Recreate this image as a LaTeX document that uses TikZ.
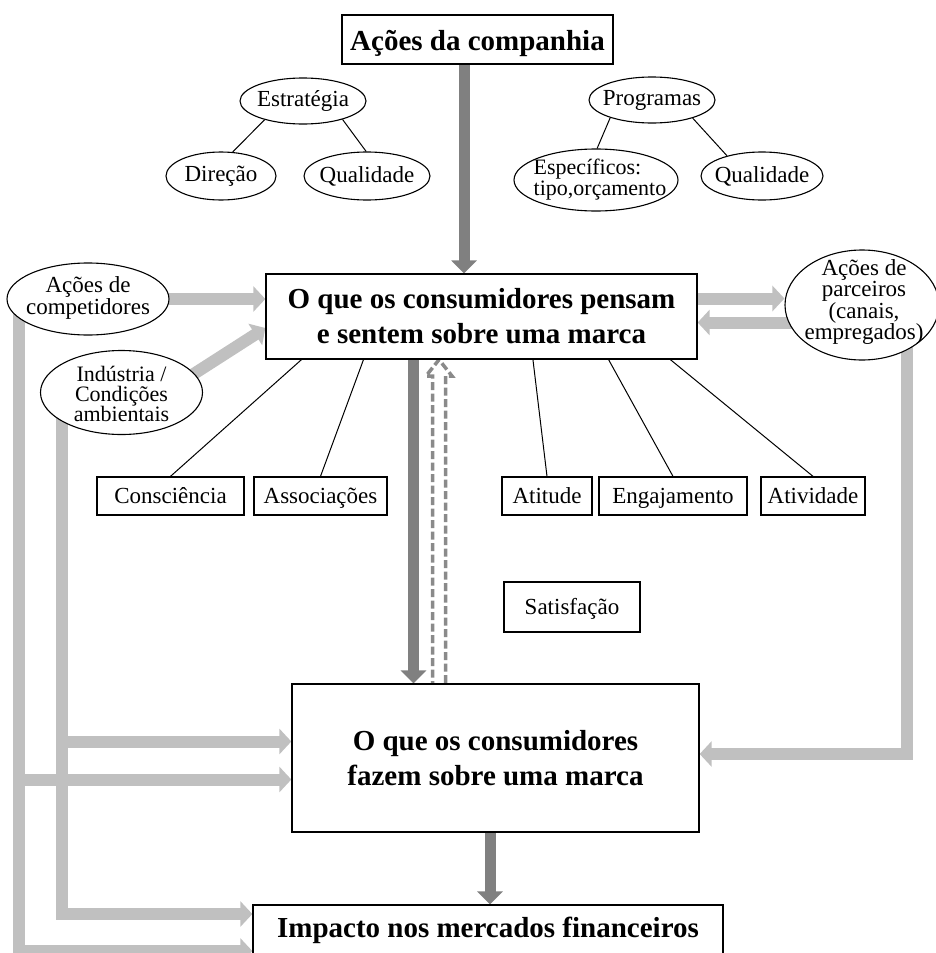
\documentclass[tikz,border=0pt]{standalone}
\usepackage{fontspec}
\setmainfont{Liberation Serif}
\usetikzlibrary{arrows.meta,shapes.geometric,calc}
\pgfdeclarelayer{bg}
\pgfsetlayers{bg,main}
\definecolor{darkg}{HTML}{808080}
\definecolor{lightg}{HTML}{C0C0C0}
\definecolor{dashg}{HTML}{8A8A8A}
\tikzset{
  box/.style={draw=black, line width=1.3pt, fill=white, inner sep=0pt, align=center},
  bigtxt/.style={font=\fontsize{29}{35}\selectfont\bfseries},
  smalltxt/.style={font=\fontsize{23}{26}\selectfont, text height=18pt, text depth=4pt},
  ell/.style={draw=black, line width=1.1pt, fill=white, ellipse, inner sep=0pt},
  elltxt/.style={inner sep=0pt, align=center},
  linkline/.style={draw=black, line width=1pt},
  darkarrow/.style={draw=darkg, line width=11pt, -{Triangle[width=25pt,length=13pt]}},
  lightarrow/.style={draw=lightg, line width=12pt, -{Triangle[width=25pt,length=12pt]}},
  hollowdash/.style={draw=dashg, line width=3.5pt, dash pattern=on 8pt off 3.5pt, line join=miter},
}
\begin{document}
\begin{tikzpicture}[x=1pt,y=-1pt]
\useasboundingbox (0,0) rectangle (935,953);

% main boxes
\node[box, bigtxt, minimum width=271pt, minimum height=49pt, text height=24pt, text depth=3pt] (title) at (477.5,39.5) {Ações da companhia};
\node[box, bigtxt, minimum width=431pt, minimum height=85pt] (b1) at (481.5,316.5) {O que os consumidores pensam\\e sentem sobre uma marca};
\node[box, bigtxt, minimum width=407pt, minimum height=148pt] (b2) at (495.5,758) {O que os consumidores\\fazem sobre uma marca};
\node[box, bigtxt, minimum width=470pt, minimum height=50pt, text height=20pt, text depth=6pt] (b3) at (488,930) {Impacto nos mercados financeiros};

% dimension boxes
\node[box, smalltxt, minimum width=147pt, minimum height=38pt] (cons) at (170.5,496) {Consciência};
\node[box, smalltxt, minimum width=133pt, minimum height=38pt] (asso) at (320.5,496) {Associações};
\node[box, smalltxt, minimum width=90pt, minimum height=38pt] (atit) at (547,496) {Atitude};
\node[box, smalltxt, minimum width=148pt, minimum height=38pt] (enga) at (673,496) {Engajamento};
\node[box, smalltxt, minimum width=104pt, minimum height=38pt] (ativ) at (813,496) {Atividade};
\node[box, smalltxt, minimum width=136pt, minimum height=50pt] (sat) at (572,607) {Satisfação};

% ellipses
\node[ell, minimum width=126pt, minimum height=46pt] (est) at (303,101) {};
\node[ell, minimum width=110pt, minimum height=48pt] (dir) at (221,176) {};
\node[ell, minimum width=126pt, minimum height=48pt] (qualL) at (367,176) {};
\node[ell, minimum width=126pt, minimum height=46pt] (prog) at (652,100) {};
\node[ell, minimum width=164pt, minimum height=62pt] (esp) at (596,180) {};
\node[ell, minimum width=122pt, minimum height=48pt] (qualR) at (762,176) {};
\node[ell, minimum width=162pt, minimum height=72pt] (comp) at (88,299) {};
\node[ell, minimum width=162pt, minimum height=84pt] (ind) at (121.5,392.5) {};
\node[ell, minimum width=154pt, minimum height=110pt] (parc) at (862,305) {};

% ellipse labels
\node[elltxt, font=\fontsize{23}{26}\selectfont] (estT) at (est) {Estratégia};
\node[elltxt, font=\fontsize{23}{26}\selectfont] (dirT) at (dir) {Direção};
\node[elltxt, font=\fontsize{23}{26}\selectfont] (qualLT) at (qualL) {Qualidade};
\node[elltxt, font=\fontsize{23}{26}\selectfont] (progT) at (prog) {Programas};
\node[elltxt, align=left, font=\fontsize{22}{21}\selectfont] (espT) at (600,180) {Específicos:\\tipo,orçamento};
\node[elltxt, font=\fontsize{23}{26}\selectfont] (qualRT) at (qualR) {Qualidade};
\node[elltxt, font=\fontsize{23}{20}\selectfont] (compT) at (88,298) {Ações de\\competidores};
\node[elltxt, font=\fontsize{22}{20}\selectfont] (indT) at (121.5,394) {Indústria /\\Condições\\ambientais};
\node[elltxt, font=\fontsize{23}{18.5}\selectfont] (parcT) at (864,302) {Ações de\\parceiros\\(canais,\\empregados)};

% thin links
\draw[linkline] (est.206) -- (dir.64);
\draw[linkline] (est.335) -- (qualL.92);
\draw[linkline] (prog.203) -- (esp.88);
\draw[linkline] (prog.336) -- (qualR.150);
\draw[linkline] ($(b1.south west)!0.0835!(b1.south east)$) -- (cons.north);
\draw[linkline] ($(b1.south west)!0.227!(b1.south east)$) -- (asso.north);
\draw[linkline] ($(b1.south west)!0.619!(b1.south east)$) -- (atit.north);
\draw[linkline] ($(b1.south west)!0.794!(b1.south east)$) -- (enga.north);
\draw[linkline] ($(b1.south west)!0.937!(b1.south east)$) -- (ativ.north);

% guide coordinates for the side bars
\coordinate (xa) at (19,0);
\coordinate (xb) at (62,0);
\coordinate (xr) at (907,0);
\coordinate (r1) at ($(b1.east)+(0,-18)$);
\coordinate (r2) at ($(b1.east)+(0,6)$);
\coordinate (indout) at ($(ind.center)+(62.8,-12.5)$);

\begin{pgfonlayer}{bg}
  % main flow
  \draw[darkarrow] (464,0 |- title.center) -- (464,0 |- b1.north);
  \draw[darkarrow] (413.5,0 |- b1.center) -- (413.5,0 |- b2.north);
  \draw[darkarrow] (490,0 |- b2.center) -- (490,0 |- b3.north);
  % feedback (dashed outline arrow)
  \draw[hollowdash] (432.5,0 |- b2.center) -- (432.5,376) -- (426,376) -- (439,0 |- b1.south)
        -- (452,376) -- (445.5,376) -- (445.5,0 |- b2.center);
  % competitors and industry
  \draw[lightarrow] (comp.center) -- (b1.west |- comp.center);
  \draw[lightarrow] (indout) -- ($(b1.west)+(0,11.5)$);
  \draw[lightarrow] (xa |- comp.center) -- (xa |- 0,951) -- (b3.west |- 0,951);
  \draw[lightarrow] (xb |- ind.center) -- (xb |- 0,914) -- (b3.west |- 0,914);
  \draw[lightarrow] (xb |- 0,741.5) -- (b2.west |- 0,741.5);
  \draw[lightarrow] (xa |- 0,779.5) -- (b2.west |- 0,779.5);
  % partners
  \draw[lightarrow] (r1) -- (parc.west |- r1);
  \draw[lightarrow] (parc.center |- r2) -- (r2);
  \draw[lightarrow] (xr |- parc.center) -- (xr |- 0,754) -- (b2.east |- 0,754);
\end{pgfonlayer}
\end{tikzpicture}
\end{document}
